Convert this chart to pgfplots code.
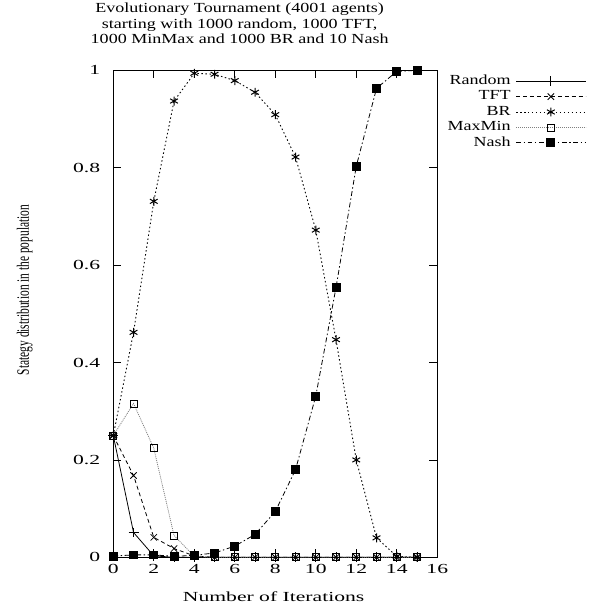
\documentclass[border=0pt]{standalone}
\usepackage{fontspec}
\setmainfont{Liberation Serif}[FakeStretch=1.56]
\newfontfamily\titfont{Liberation Serif}[FakeStretch=1.3]
\newfontfamily\ylabfont{Liberation Serif}[FakeStretch=0.66]
\usepackage{pgfplots}
\pgfplotsset{compat=1.18}
\begin{document}
\begin{tikzpicture}
\begin{axis}[
  scale only axis, width=326bp, height=490bp,
  xmin=0, xmax=16, ymin=0, ymax=1,
  xtick={0,2,...,16}, ytick={0,0.2,0.4,0.6,0.8,1},
  /pgf/number format/assume math mode=true,
  tick align=inside, major tick length=8bp,
  axis line style={line width=1bp},
  every tick/.style={black, line width=0.8bp},
  tick label style={font=\fontsize{14}{16}\selectfont, inner sep=0pt},
  xticklabel style={anchor=north, yshift=-7bp},
  yticklabel style={anchor=east, xshift=-13bp},
  title={Evolutionary Tournament (4001 agents)\\starting with 1000 random, 1000 TFT,\\1000 MinMax and 1000 BR and 10 Nash},
  title style={at={(axis description cs:0.39,1.084)}, anchor=center, align=center, font=\titfont\fontsize{14}{15.5}\selectfont},
  xlabel={Number of Iterations},
  xlabel style={at={(axis description cs:0.495,-0.08)}, anchor=center, font=\fontsize{14}{16}\selectfont},
  ylabel={Stategy distribution in the population},
  ylabel style={at={(axis description cs:-0.273,0.549)}, anchor=center, font=\ylabfont\fontsize{17.5}{17.5}\selectfont},
  legend cell align=right,
  legend plot pos=right,
  legend style={draw=none, fill=none, at={(axis description cs:1.46,0.994)}, anchor=north east,
    inner sep=0pt, column sep=5bp, row sep=0pt,
    nodes={inner sep=0pt, text height=11bp, text depth=4.5bp},
    font=\titfont\fontsize{14}{16}\selectfont},
  legend image code/.code={\draw[mark repeat=2,mark phase=2] plot coordinates {(0bp,0bp) (35bp,0bp) (70bp,0bp)};},
  clip=false,
]
\addplot[black, line width=0.8bp, mark=+, mark size=5bp, mark options={solid}] coordinates {
(0,0.25)(1,0.051)(2,0.003)(3,0)(4,0)(5,0)(6,0)(7,0)(8,0)(9,0)(10,0)(11,0)(12,0)(13,0)(14,0)(15,0)};
\addlegendentry{Random}
\addplot[black, line width=0.8bp, dash pattern=on 4bp off 3bp, mark=x, mark size=4.5bp, mark options={solid}] coordinates {
(0,0.25)(1,0.168)(2,0.041)(3,0.018)(4,0.003)(5,0)(6,0)(7,0)(8,0)(9,0)(10,0)(11,0)(12,0)(13,0)(14,0)(15,0)};
\addlegendentry{TFT}
\addplot[black, line width=0.9bp, dash pattern=on 1.5bp off 2.5bp, mark=asterisk, mark size=4.5bp, mark options={solid, line width=1bp}] coordinates {
(0,0.25)(1,0.462)(2,0.731)(3,0.937)(4,0.994)(5,0.992)(6,0.979)(7,0.955)(8,0.909)(9,0.822)(10,0.672)(11,0.447)(12,0.2)(13,0.04)(14,0.002)(15,0)};
\addlegendentry{BR}
\addplot[gray, line width=0.8bp, dash pattern=on 1bp off 1bp, mark=square, mark size=3.5bp, mark options={solid, black, line width=0.7bp}] coordinates {
(0,0.25)(1,0.316)(2,0.224)(3,0.045)(4,0.002)(5,0)(6,0)(7,0)(8,0)(9,0)(10,0)(11,0)(12,0)(13,0)(14,0)(15,0)};
\addlegendentry{MaxMin}
\addplot[black, line width=0.8bp, dash pattern=on 5bp off 2.5bp on 1.5bp off 2.5bp, mark=square*, mark size=4bp, mark options={solid}] coordinates {
(0,0.0025)(1,0.005)(2,0.005)(3,0.002)(4,0.004)(5,0.009)(6,0.023)(7,0.047)(8,0.094)(9,0.180)(10,0.331)(11,0.554)(12,0.803)(13,0.963)(14,0.998)(15,1.0)};
\addlegendentry{Nash}
\end{axis}
\path[use as bounding box] (-114bp,-51bp) rectangle (486bp,557bp);
\end{tikzpicture}
\end{document}
